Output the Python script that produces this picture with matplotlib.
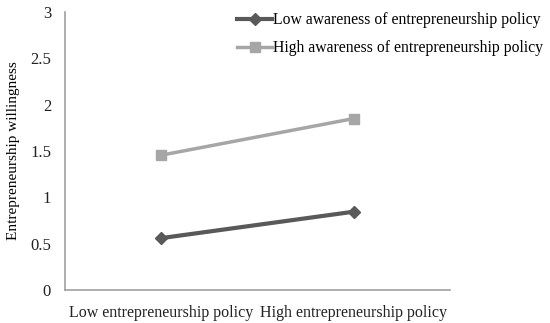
import matplotlib
matplotlib.use("Agg")
import matplotlib.pyplot as plt

categories = ["Low entrepreneurship policy", "High entrepreneurship policy"]
low_awareness = [0.56, 0.845]
high_awareness = [1.455, 1.85]
series_names = ["Low awareness of entrepreneurship policy",
                "High awareness of entrepreneurship policy"]
y_ticks = [0, 0.5, 1, 1.5, 2, 2.5, 3]
y_tick_labels = ["0", "0.5", "1", "1.5", "2", "2.5", "3"]

plt.rcParams['font.family'] = ['Liberation Serif', 'DejaVu Serif']

fig = plt.figure(figsize=(5.5, 3.23), dpi=100)
ax = fig.add_axes([65/550, 1-290/323, (450-65)/550, (290-12)/323])

x = list(range(len(categories)))
l1, = ax.plot(x, low_awareness, color='#595959', lw=3, marker='D', ms=6, label=series_names[0])
l2, = ax.plot(x, high_awareness, color='#a6a6a6', lw=2.5, marker='s', ms=7, label=series_names[1])

ax.set_xlim(-0.5, 1.5)
ax.set_ylim(0, 3)
ax.set_xticks(x)
ax.set_xticklabels(categories, fontsize=11.5)
ax.set_yticks(y_ticks)
ax.set_yticklabels(y_tick_labels, fontsize=12)
ax.tick_params(axis='x', length=0, pad=11, colors='#222222')
ax.tick_params(axis='y', length=0, pad=10, colors='#222222')
ax.set_ylabel("Entrepreneurship willingness", fontsize=11, labelpad=7)
for s in ['top', 'right']:
    ax.spines[s].set_visible(False)
for s in ['left', 'bottom']:
    ax.spines[s].set_color('#a0a0a0')
    ax.spines[s].set_linewidth(1.2)

fig.legend(handles=[l1, l2], loc='upper left', bbox_to_anchor=(231/550, 1-6/323),
           frameon=False, fontsize=11.3, handlelength=2.2, handletextpad=0.1,
           labelspacing=0.75, borderaxespad=0)

fig.savefig("out.png", dpi=100)
